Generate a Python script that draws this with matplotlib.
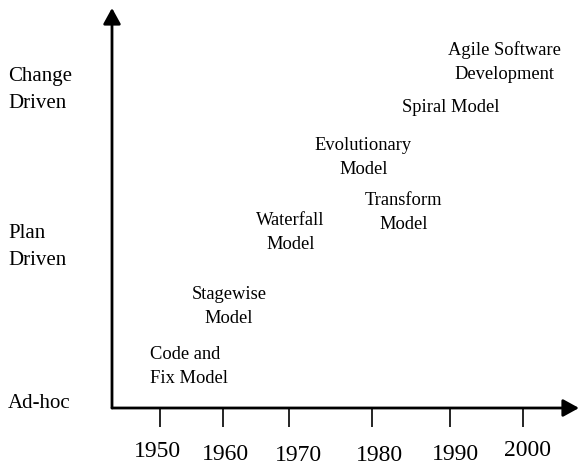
import matplotlib
matplotlib.use('Agg')
import matplotlib.pyplot as plt
from matplotlib.transforms import blended_transform_factory

plt.rcParams['font.family'] = ['Liberation Serif', 'DejaVu Serif']

# process models placed by year (x) and formality level (y)
models = ['Code and\nFix Model', 'Stagewise\nModel', 'Waterfall\nModel',
          'Evolutionary\nModel', 'Transform\nModel', 'Spiral Model',
          'Agile Software\nDevelopment']
years = [1954.0, 1959.5, 1968.0, 1978.0, 1983.5, 1990.0, 1997.5]
levels = [0.24, 0.62, 1.09, 1.57, 1.22, 1.89, 2.18]

level_names = ['Ad-hoc', 'Plan\nDriven', 'Change\nDriven']
level_pos = [0, 1, 2]

# ticks were hand placed on the original, so not evenly spaced
tick_pos = [1950, 1958.7, 1967.7, 1979.2, 1990, 2000]
tick_labels = ['1950', '1960', '1970', '1980', '1990', '2000']
# small hand-placement wobble of the year labels (pixels)
lab_dx = [-3, 2, 10, 7, 5, 4.5]
lab_dy = [0, -3, -4, -4, -3, 1]

W, H = 580, 466
fig = plt.figure(figsize=(W / 100, H / 100), dpi=100)
ax = fig.add_axes([112 / W, (H - 408) / H, (579 - 112) / W, (408 - 8) / H])
ax.set_xlim(1943.39, 2007.71)
ax.set_ylim(-0.0255, 2.522)
for s in ax.spines.values():
    s.set_visible(False)

# axes with arrow heads
arr = dict(arrowstyle='-|>,head_length=0.4,head_width=0.22', lw=2, color='k',
           mutation_scale=24, shrinkA=0, shrinkB=0)
ax.annotate('', xy=(1, 0), xytext=(0, 0), xycoords='axes fraction', arrowprops=arr)
ax.annotate('', xy=(0, 1), xytext=(0, 0), xycoords='axes fraction', arrowprops=arr)

ax.set_xticks(tick_pos)
ax.set_yticks([])
ax.tick_params(axis='x', direction='out', length=13.7, width=1.2,
               labelbottom=False)
for p, lab, dx, dy in zip(tick_pos, tick_labels, lab_dx, lab_dy):
    ax.annotate(lab, xy=(p, 0), xycoords=ax.get_xaxis_transform(),
                xytext=(dx, -49 + dy), textcoords='offset pixels',
                ha='center', va='baseline', fontsize=17)

side = blended_transform_factory(fig.transFigure, ax.transData)
for name, lv in zip(level_names, level_pos):
    ax.text(8 / W, lv, name, transform=side, ha='left', va='center',
            fontsize=15, linespacing=1.6, clip_on=False)

for name, x, y in zip(models, years, levels):
    ma = 'left' if name.startswith('Code') else 'center'
    ax.text(x, y, name, ha='center', va='center', multialignment=ma,
            fontsize=13.3, linespacing=1.55)

fig.savefig('out.png', dpi=100)
